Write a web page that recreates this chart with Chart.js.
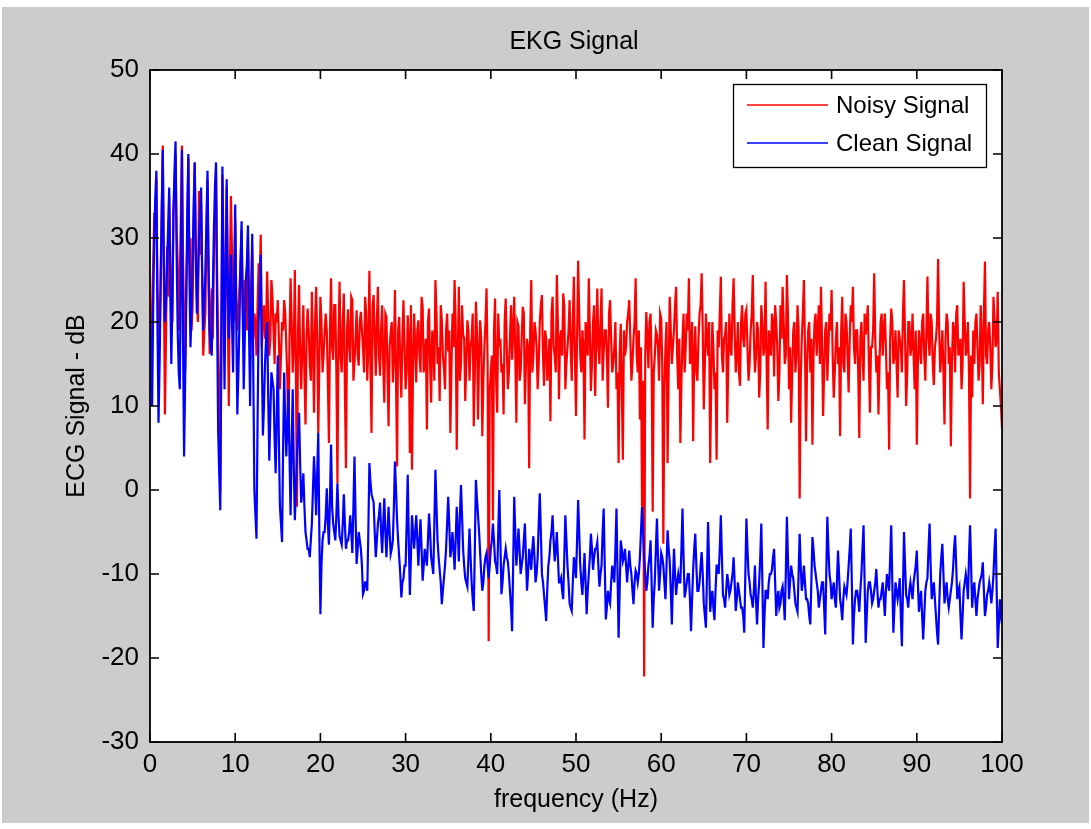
<!DOCTYPE html>
<html><head><meta charset="utf-8">
<script src="https://cdn.jsdelivr.net/npm/chart.js@4.4.1/dist/chart.umd.min.js"></script>
<style>html,body{margin:0;padding:0;background:#fff;overflow:hidden}canvas{display:block}</style>
</head><body>
<canvas id="c" width="1091" height="829"></canvas>
<script>
// ---- data ----
// Samples every 0.125 Hz from 0 to 100 Hz, stored as two interleaved lists:
// "...Grid" values sit on 0, 0.25, 0.5 ... Hz, "...Mid" values on 0.125, 0.375 ... Hz.
const FREQ_STEP = 0.125;
const xTickValues = [0, 10, 20, 30, 40, 50, 60, 70, 80, 90, 100];
const yTickValues = [-30, -20, -10, 0, 10, 20, 30, 40, 50];
const seriesNames = ['Noisy Signal', 'Clean Signal'];
const titleText = 'EKG Signal';
const xLabel = 'frequency (Hz)';
const yLabel = 'ECG Signal - dB';

const noisyGrid = [
  16,22,33,37,21,26,41,9,29,35, 22,33,40,27,25,41,20,24,39.5,30,
  22,39,23,35.6,34,16,21,37,16.2,24, 27,38,18,-0.4,37.5,20,36,10,35,22,
  32.2,19,24,31,18,22,30,17,29,21, 16,27,30.4,20,18,26,16,25,19,21,
  22.6,12,20,22.6,17,5.6,25.2,14,26.2,-2, 24.4,12,22,7.8,21.6,15,23.6,9.2,24.2,6.8,
  23,14,18.8,19,5.6,25.2,15.5,22,0.8,24.8, 14,23.4,2.6,21.5,15.2,22.6,15.2,21.4,14.8,21.2,
  17,23,13,26.1,6.8,23.2,13.6,24.2,13.6,22, 10.4,20.6,7.6,18.8,12.8,23.8,2.8,20.6,11,22.6,
  12,20.8,4.4,2.4,21,12.8,20.2,14,21.8,16, 7.2,21.6,10.4,18,25,15,10.6,20.2,14.5,19,
  16.5,6.8,21,25,4.8,24.2,15,18.5,10.6,20.2, 13,18,7.6,22.4,8.4,20.2,6.4,17,24,-18,
  14,-3.6,22.8,9.2,17,14,9,22.8,12,18, 15.5,23,8,19.5,14,21.8,10.2,18,2.6,25,
  16,19,12,20,23.2,12.4,18,15,8.2,23, 16,25.6,10.8,19,23.4,12,17,22.6,13,25.4,
  8.8,27.3,16,19,6,18.5,25.2,11.8,20,11.2, 24,15,24,16.5,19,9.8,22.6,14,17,12,
  3.2,19.8,3.6,16,20,22.6,13,18,25.2,14, 8.4,-2,-22.2,21.2,14.5,21,-2.6,16,18.5,13,
  20.4,-6.4,17,3.2,23,15,19,24.2,12,5.6, 18,14,21,25.2,16,5.8,19.5,13,21,25.8,
  9.6,21,16,3.2,20,12,3.6,17,25.4,14, 18.5,8,21,16,25.2,14,20,12.4,22,17,
  21.5,13,19,25.6,14,20,11,22,16,24.8, 7.2,18,21,13.5,20,10.6,22,24.2,15,25.6,
  12,8,19,14,22,-1,18,25,5.8,19, 14,5.4,20,16,22,24.2,8.8,19,13,21,
  23.8,11,18,15,6.4,23,14,20,11.6,22, 24.2,15,19,6.2,20,13,18.5,22,9.2,17,
  25.8,14,9,20,16,21,12,4.8,21.6,15, 19,11,18,14,25,10,20,16,21,12,
  5.4,19,15,21,13,25.4,16,20,12.5,18, 27.5,14,19,7.8,21,15,5.2,20,14,22,
  17,12,24.8,16,20,-1,11,15,21,13, 22,10.2,27.2,15,20,12,23,17,23.6,12,
  7.4
];
const noisyMid = [
  19,27,30,24,17,33,25,18,23,28, 20,36,31,19,33,28,14,30,27,19,
  31,29,20,28,25,19,30,24,21,18, 33,26,12,15,29,24,22,26,28,20,
  23,21,27,22,25,19,23,24,18,20, 22,25,17,22,20,21,18,23,15,20,
  18,16,19,21,13,18,20,17,14,19, 16,17,14,18,19,13,17,20,18,15,
  20,16,21,13,19,17,22,14,18,16, 20,12,19,17,23,13,18,16,20,19,
  14,21,17,15,22,18,20,16,19,15, 21,14,17,20,16,13,19,15,18,17,
  14,18,22,15,17,19,16,23,14,18, 20,15,19,13,21,17,22,16,12,21,
  19,14,17,20,16,13,22,18,15,19, 17,21,14,19,16,18,13,20,15,12,
  16,19,13,21,18,15,20,17,14,22, 19,16,20,13,18,21,15,17,19,14,
  20,17,15,22,16,19,13,18,21,17, 14,20,18,16,22,15,19,17,20,16,
  18,21,14,17,20,16,19,15,22,18, 17,20,13,19,16,21,18,15,20,14,
  16,12,19,17,21,18,15,20,16,19, 17,13,16,18,20,15,14,19,17,21,
  15,12,20,14,19,17,22,16,18,13, 21,17,19,15,20,16,14,18,22,19,
  15,18,20,13,17,14,19,21,16,18, 20,15,17,22,19,16,14,20,18,21,
  17,15,21,18,16,19,14,20,17,15, 19,16,20,22,17,14,18,20,16,21,
  17,14,20,16,19,13,21,17,15,20, 18,16,21,19,15,18,14,20,17,19,
  16,14,20,17,19,15,21,16,18,20, 17,19,14,18,16,21,20,15,17,19,
  18,16,15,21,19,17,14,18,20,16, 15,19,17,21,18,14,20,17,16,19,
  15,17,20,16,19,18,21,15,17,20, 19,16,14,18,20,17,15,19,21,16,
  18,15,20,17,14,16,19,20,17,15, 18,21,16,19,17,15,20,18,14,10
];

const cleanGrid = [
  22,10,30,38,8,24,40.5,20,27,36, 15,33,41.5,19,12,40.5,4,22,40,17,
  27,39,21,30,36,19,26,38,19,16, 31,39,7,-2.4,38.5,12,37,18,28,14,
  34,9,20,32,12,25,31.5,10,30.5,0, -5.8,20,28,6.5,15,20,3.5,14,12,2,
  16,-2,-6.2,14,4,12,-3,12,-3.6,4, 9.2,-1.5,2,-5,-7,-8,-4,4,-3,6.8,
  -14.8,-6,-5,0.2,-6.5,5.4,-4,-6,0.8,-5.5, -6.5,-0.5,-7,-6,-3,-7.5,4,-8.8,-5,-7,
  -12.4,-11,-12,3.2,-0.5,-1.5,-8,-4,-1.5,-7.5, -1,-8,-2,-7.6,-6,3.4,-3.6,-8,-12.8,-10.5,
  -9,1.8,-12.5,-3,-7,-3,-9,-3.5,-10.8,-7, -9,-2.8,-8,-10,2.4,-6,-9.5,-13.6,-10.5,-7,
  -0.8,-8,-5,-9.5,-2,-8.5,0.6,-7,-10.5,-11.5, -4.6,-11,-14.4,1.2,-3,-7.5,-12,-9,-7.5,-10.5,
  -7,-4,-8.5,-10,0,-12.4,-9,-7,-8.5,-12, -16.8,-0.8,-9,-4.6,-10,-8,-4,-12,-7,-9.5,
  -5.5,-11,-8,-0.4,-10,-12.5,-15.6,-9,-6,-3, -8.5,-5,-11,-10.5,-13,-3,-9,-13.5,-14.4,-8,
  -10.5,-1.2,-9,-12.5,-7.5,-14.8,-10,-5.2,-9.5,-7, -6.2,-11.5,-9,-2.2,-15.4,-12,-13.5,-9,-11,-2.2,
  -17.6,-6,-8.5,-7,-11,-7.2,-10,-13.6,-9.6,-11, -8,-2,-8.2,-12,-9,-6,-16.4,-10.8,-3.4,-12,
  -7.5,-9,-13,-4.8,-8.5,-16,-7,-12.5,-10,-11, -2.2,-12.8,-11,-10,-16.8,-9.5,-5.2,-12,-11,-7.4,
  -13.5,-16.4,-3.8,-14.5,-12,-15.5,-9,-10,-3,-12.5, -14,-10,-12.5,-11,-8,-14.4,-11,-13,-14,-17,
  -3.4,-10,-12.5,-14,-9,-16,-11,-4,-18.8,-12, -13,-10,-9.5,-7,-15,-12,-13.5,-11.5,-15.5,-3.2,
  -13,-9,-10.5,-13.5,-14.5,-5.2,-12,-9,-13,-13.5, -16,-5.6,-9,-11,-14,-12,-11,-17.2,-3.2,-10,
  -13,-11,-14,-7.2,-13,-15.5,-11.5,-12.5,-9,-4.6, -18.4,-13,-12,-14.5,-10,-4.2,-18.2,-12,-11,-13.5,
  -12,-9.4,-14,-13,-11,-15,-10,-12,-4.2,-17, -11,-13,-10.5,-18.6,-5,-12.5,-14,-11,-13,-10,
  -7.2,-14.5,-12,-17.8,-12,-10.5,-4,-13,-11,-15, -18.4,-10,-6.4,-13.5,-11,-14,-12,-9.5,-5.4,-13,
  -11.5,-17.8,-12,-10,-13,-4.2,-14,-11,-15,-12, -10.5,-8.6,-15,-12.5,-11,-13.5,-10,-4.6,-18.8,-13,
  -16
];
const cleanMid = [
  14,22,35,20,15,33,27,22,31,24, 22,38,28,14,28,18,13,33,26,21,
  34,28,25,33,26,22,32,27,17,24, 36,21,2,20,23,26,26,23,20,25,
  20,14,27,22,18,27,19,22,14,-3, 8,24,16,10,18,11,9,13,6,9,
  6,-4,5,8,8,4,5,3,0,7, 3,0,-2,-6,-7,-6,0,1,2,-5,
  -9,-5,-3,-4,-1,-2,-5,-3,-3,-6, -4,-4,-6,-5,-5,-2,-3,-7,-6,-9,
  -12,-11,-5,1,-1,-5,-6,-3,-5,-4, -5,-5,-5,-7,-2,0,-6,-10,-11,-9,
  -4,-6,-8,-5,-5,-6,-6,-7,-9,-8, -6,-5,-9,-4,-2,-8,-11,-12,-9,-4,
  -4,-7,-7,-6,-5,-3,-3,-9,-11,-8, -8,-13,-7,-1,-5,-10,-11,-8,-9,-9,
  -6,-6,-9,-5,-6,-11,-8,-8,-10,-14, -9,-5,-7,-7,-9,-6,-8,-10,-8,-7,
  -8,-10,-4,-5,-11,-14,-12,-8,-5,-6, -7,-8,-11,-12,-8,-6,-11,-14,-11,-9,
  -6,-5,-11,-10,-11,-12,-8,-7,-8,-7, -9,-10,-5,-9,-14,-13,-11,-10,-7,-10,
  -12,-7,-8,-9,-9,-9,-12,-11,-10,-10, -5,-5,-10,-11,-8,-11,-13,-7,-8,-10,
  -8,-11,-9,-7,-12,-11,-10,-11,-11,-7, -8,-12,-10,-13,-13,-7,-9,-12,-9,-10,
  -15,-10,-9,-13,-14,-12,-9,-7,-8,-13, -12,-11,-12,-10,-11,-13,-12,-14,-15,-10,
  -7,-11,-13,-12,-13,-13,-8,-11,-15,-12, -11,-10,-8,-11,-13,-14,-12,-13,-10,-8,
  -11,-10,-12,-14,-10,-9,-11,-11,-13,-15, -11,-7,-10,-12,-13,-11,-14,-10,-7,-11,
  -12,-13,-11,-10,-14,-13,-12,-11,-7,-11, -15,-12,-13,-12,-7,-11,-15,-11,-12,-13,
  -11,-12,-13,-12,-13,-12,-11,-8,-11,-14, -12,-12,-15,-12,-9,-13,-12,-12,-11,-9,
  -11,-13,-15,-15,-11,-7,-9,-12,-13,-17, -14,-8,-10,-12,-13,-13,-11,-7,-9,-12,
  -15,-15,-11,-11,-8,-9,-12,-13,-13,-11, -10,-12,-14,-12,-12,-12,-7,-12,-16,-15
];

// merge the two hand-read lists into one 0.125 Hz series
function mergeSeries(grid, mid) {
  const pts = [];
  grid.forEach((v, i) => {
    pts.push({ x: i * 2 * FREQ_STEP, y: v });
    if (i < mid.length) pts.push({ x: (i * 2 + 1) * FREQ_STEP, y: mid[i] });
  });
  return pts;
}

const FONT = '"Liberation Sans", Arial, Helvetica, sans-serif';
const COLORS = ['#ff0000', '#0000ff'];

const framePlugin = {
  id: 'matlabFrame',
  beforeDraw(chart) {
    const ctx = chart.ctx, a = chart.chartArea;
    ctx.save();
    ctx.fillStyle = '#ffffff';
    ctx.fillRect(0, 0, chart.width, chart.height);
    ctx.fillStyle = '#cccccc';
    ctx.fillRect(2, 7, chart.width - 4, 816);
    ctx.fillStyle = '#ffffff';
    ctx.fillRect(a.left, a.top, a.right - a.left, a.bottom - a.top);
    ctx.restore();
  },
  afterDraw(chart) {
    const ctx = chart.ctx, a = chart.chartArea;
    const xs = chart.scales.x, ys = chart.scales.y;
    const TL = 9;
    ctx.save();
    ctx.strokeStyle = '#000';
    ctx.lineWidth = 1.6;
    ctx.beginPath();
    xs.ticks.forEach(t => {
      const px = xs.getPixelForValue(t.value);
      ctx.moveTo(px, a.bottom); ctx.lineTo(px, a.bottom - TL);
      ctx.moveTo(px, a.top); ctx.lineTo(px, a.top + TL);
    });
    ys.ticks.forEach(t => {
      const py = ys.getPixelForValue(t.value);
      ctx.moveTo(a.left, py); ctx.lineTo(a.left + TL, py);
      ctx.moveTo(a.right, py); ctx.lineTo(a.right - TL, py);
    });
    ctx.stroke();
    ctx.lineWidth = 1.8;
    ctx.strokeRect(a.left, a.top, a.right - a.left, a.bottom - a.top);

    // title
    ctx.fillStyle = '#000';
    ctx.font = '25px ' + FONT;
    ctx.textAlign = 'center';
    ctx.textBaseline = 'alphabetic';
    ctx.fillText(titleText, (a.left + a.right) / 2 - 2, 49);

    // legend (MATLAB style box, top right inside the axes)
    const lx = 733, ly = 84, lw = 253, lh = 83;
    ctx.fillStyle = '#fff';
    ctx.fillRect(lx, ly, lw, lh);
    ctx.lineWidth = 1.3;
    ctx.strokeStyle = '#000';
    ctx.strokeRect(lx + 0.5, ly + 0.5, lw, lh);
    const rows = [105, 143];
    ctx.font = '24px ' + FONT;
    ctx.textAlign = 'left';
    ctx.textBaseline = 'middle';
    chart.data.datasets.forEach((ds, i) => {
      const y = rows[i];
      ctx.strokeStyle = COLORS[i];
      ctx.lineWidth = 1.6;
      ctx.beginPath(); ctx.moveTo(747, y); ctx.lineTo(828, y); ctx.stroke();
      ctx.fillStyle = '#000';
      ctx.fillText(ds.label, 836, y + 1);
    });
    ctx.restore();
  }
};

new Chart(document.getElementById('c'), {
  type: 'line',
  data: {
    datasets: [
      { label: seriesNames[0], data: mergeSeries(noisyGrid, noisyMid), borderColor: COLORS[0],
        borderWidth: 2.2, pointRadius: 0, tension: 0, order: 2 },
      { label: seriesNames[1], data: mergeSeries(cleanGrid, cleanMid), borderColor: COLORS[1],
        borderWidth: 2.2, pointRadius: 0, tension: 0, order: 1 }
    ]
  },
  options: {
    responsive: false,
    devicePixelRatio: 1,
    animation: false,
    events: [],
    layout: { padding: { left: 0, right: 89, top: 70, bottom: 0 } },
    plugins: { legend: { display: false }, title: { display: false }, tooltip: { enabled: false } },
    scales: {
      x: {
        type: 'linear', min: 0, max: 100,
        afterBuildTicks: s => { s.ticks = xTickValues.map(v => ({ value: v })); },
        afterFit: s => { s.height = 87; },
        grid: { display: false, drawTicks: false },
        border: { display: false },
        ticks: { color: '#000', font: { family: FONT, size: 26 }, padding: 7, maxRotation: 0, autoSkip: false },
        title: { display: true, text: xLabel, color: '#000', font: { family: FONT, size: 25 }, padding: { top: 0, bottom: 14 } }
      },
      y: {
        type: 'linear', min: -30, max: 50,
        afterBuildTicks: s => { s.ticks = yTickValues.map(v => ({ value: v })); },
        afterFit: s => { s.width = 150; },
        grid: { display: false, drawTicks: false },
        border: { display: false },
        ticks: { color: '#000', font: { family: FONT, size: 26 }, padding: 11, autoSkip: false },
        title: { display: true, text: yLabel, color: '#000', font: { family: FONT, size: 25 }, padding: { top: 62, bottom: 0 } }
      }
    }
  },
  plugins: [framePlugin]
});
</script>
</body></html>
